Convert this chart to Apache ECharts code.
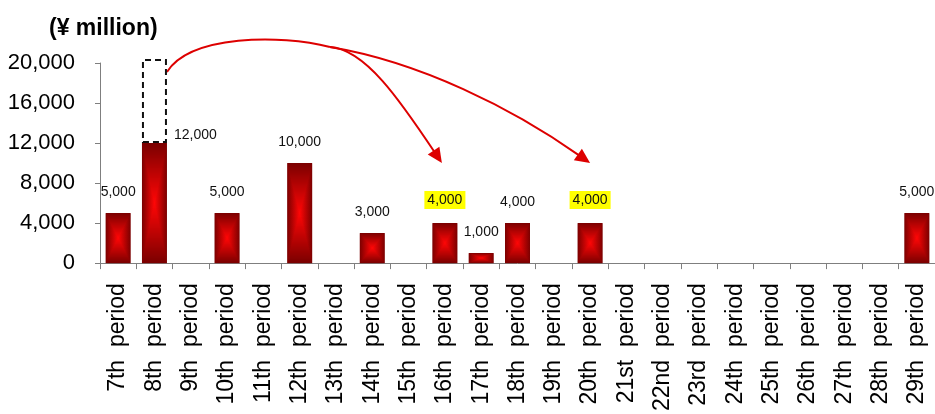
<!DOCTYPE html>
<html>
<head>
<meta charset="utf-8">
<script src="https://cdn.jsdelivr.net/npm/echarts@6/dist/echarts.min.js"></script>
<style>
  html, body { margin: 0; padding: 0; background: #fff; }
  #chart { width: 935px; height: 414px; }
</style>
</head>
<body>
<div id="chart"></div>
<script>
// Redemption schedule by period (¥ million)
const periods = [
  '7th  period', '8th  period', '9th  period', '10th  period', '11th  period', '12th  period',
  '13th  period', '14th  period', '15th  period', '16th  period', '17th  period', '18th  period',
  '19th  period', '20th  period', '21st  period', '22nd  period', '23rd  period', '24th  period',
  '25th  period', '26th  period', '27th  period', '28th  period', '29th  period'
];
const amounts = [
  5000, 12000, null, 5000, null, 10000,
  null, 3000, null, 4000, 1000, 4000,
  null, 4000, null, null, null, null,
  null, null, null, null, 5000
];
// Portion shifted out of the 8th period (outlined with a dashed box)
const shifted = [
  null, 8400, null, null, null, null,
  null, null, null, null, null, null,
  null, null, null, null, null, null,
  null, null, null, null, null
];
// Periods whose value labels are highlighted
const highlighted = ['16th  period', '20th  period'];
const yTicks = { min: 0, max: 20000, interval: 4000 };

const BAR_W = 25;
const FONT = '"Liberation Sans", Arial, sans-serif';

function fmt(n) {
  return String(n).replace(/\B(?=(\d{3})+(?!\d))/g, ',');
}

// Rectangular "from centre" shading: bright red core fading to dark maroon edges
const CORE = [255, 6, 6];
const EDGE = [122, 0, 0];
function shade(t) {
  const c = CORE.map((v, i) => Math.round(v + (EDGE[i] - v) * t));
  return 'rgb(' + c.join(',') + ')';
}

function renderShadedBar(params, api) {
  const idx = api.value(0);
  const val = api.value(1);
  const top = api.coord([idx, val]);
  const base = api.coord([idx, 0]);
  const x0 = top[0] - BAR_W / 2;
  const y0 = Math.round(top[1]);
  const y1 = Math.round(base[1]);
  const h = y1 - y0;
  const edge = shade(1);
  const children = [];
  for (let y = 0; y < h; y++) {
    const v = Math.abs((y + 0.5) / h - 0.5) * 2;
    const a = (1 - v) / 2;
    const cv = shade(v);
    children.push({
      type: 'rect',
      silent: true,
      shape: { x: x0, y: y0 + y, width: BAR_W, height: 1.2 },
      style: {
        fill: new echarts.graphic.LinearGradient(0, 0, 1, 0, [
          { offset: 0, color: edge },
          { offset: a, color: cv },
          { offset: 1 - a, color: cv },
          { offset: 1, color: edge }
        ])
      }
    });
  }
  return { type: 'group', children: children };
}

const labelData = amounts.map((v, i) => {
  if (v == null) return null;
  const item = { value: v };
  if (highlighted.includes(periods[i])) {
    item.label = { backgroundColor: '#ffff00', padding: [2, 3, 2, 3] };
  }
  if (i === 1) {
    item.label = {
      position: ['100%', 0],
      align: 'left',
      verticalAlign: 'middle',
      offset: [7, -8]
    };
  }
  return item;
});

const shadedData = [];
amounts.forEach((v, i) => { if (v != null) shadedData.push([i, v]); });

const chart = echarts.init(document.getElementById('chart'), null, { renderer: 'canvas' });

chart.setOption({
  animation: false,
  backgroundColor: '#ffffff',
  title: {
    text: '(¥ million)',
    left: 44,
    top: 12,
    textStyle: { fontFamily: FONT, fontSize: 23, fontWeight: 'bold', color: '#000' }
  },
  grid: { left: 100, right: 0, top: 63, bottom: 150, containLabel: false },
  xAxis: {
    type: 'category',
    data: periods,
    boundaryGap: true,
    axisLine: { show: true, lineStyle: { color: '#7f7f7f', width: 1 } },
    axisTick: { show: true, interval: 0, length: 6, lineStyle: { color: '#7f7f7f' } },
    axisLabel: {
      interval: 0,
      rotate: 90,
      margin: 20,
      fontFamily: FONT,
      fontSize: 23,
      color: '#000'
    },
    splitLine: { show: false }
  },
  yAxis: {
    type: 'value',
    min: yTicks.min,
    max: yTicks.max,
    interval: yTicks.interval,
    axisLine: { show: true, lineStyle: { color: '#7f7f7f', width: 1 } },
    axisTick: { show: true, length: 5, lineStyle: { color: '#7f7f7f' } },
    axisLabel: {
      margin: 25,
      fontFamily: FONT,
      fontSize: 22,
      color: '#000',
      formatter: fmt
    },
    splitLine: { show: false }
  },
  series: [
    {
      name: 'amount',
      type: 'bar',
      stack: 'total',
      barWidth: BAR_W,
      z: 1,
      itemStyle: { color: 'rgba(0,0,0,0)' },
      label: {
        show: true,
        position: 'top',
        distance: 14,
        fontFamily: FONT,
        fontSize: 14,
        color: '#111',
        formatter: p => fmt(p.value)
      },
      data: labelData
    },
    {
      name: 'shifted',
      type: 'bar',
      stack: 'total',
      barWidth: BAR_W,
      clip: false,
      z: 5,
      itemStyle: {
        color: 'rgba(0,0,0,0)',
        borderColor: '#111',
        borderWidth: 2,
        borderType: [6, 4]
      },
      data: shifted
    },
    {
      name: 'shading',
      type: 'custom',
      z: 2,
      silent: true,
      renderItem: renderShadedBar,
      encode: { x: 0, y: 1 },
      data: shadedData
    }
  ]
});

// Curved arrows from the shifted amount to the periods that receive it
function drawArrows() {
  const px = (i, v) => chart.convertToPixel({ xAxisIndex: 0, yAxisIndex: 0 }, [i, v]);
  const src = px(1, 19100);
  const sx = src[0] + BAR_W / 2, sy = src[1];
  const t1 = px(9, 10000); t1[0] -= 3;
  const t2 = px(13, 10000);
  const red = '#dd0000';
  const bx = sx + 163, by = sy - 25;

  function head(tip, from, L, W) {
    const dx = tip[0] - from[0], dy = tip[1] - from[1];
    const len = Math.hypot(dx, dy);
    const ux = dx / len, uy = dy / len;
    const bxp = tip[0] - ux * L, byp = tip[1] - uy * L;
    return {
      base: [tip[0] - ux * (L - 2), tip[1] - uy * (L - 2)],
      el: {
        type: 'polygon',
        silent: true,
        shape: { points: [tip, [bxp - uy * W / 2, byp + ux * W / 2], [bxp + uy * W / 2, byp - ux * W / 2]] },
        style: { fill: red }
      }
    };
  }

  const c12 = [t1[0] - 42, t1[1] - 63];
  const h1 = head(t1, c12, 15, 14);
  const c22 = [t2[0] - 78, t2[1] - 55];
  const h2 = head(t2, c22, 15, 14);

  const line = (p0, p1, p2, p3) => ({
    type: 'bezierCurve',
    silent: true,
    shape: { x1: p0[0], y1: p0[1], cpx1: p1[0], cpy1: p1[1], cpx2: p2[0], cpy2: p2[1], x2: p3[0], y2: p3[1] },
    style: { stroke: red, lineWidth: 2, fill: null }
  });

  chart.setOption({
    graphic: [
      line([sx, sy], [sx + 23, sy - 37], [sx + 113, sy - 38], [bx, by]),
      line([bx, by], [bx + 35, by + 2], c12, h1.base),
      line([bx, by], [bx + 90, by + 15], c22, h2.base),
      h1.el,
      h2.el
    ]
  });
}
drawArrows();
</script>
</body>
</html>
